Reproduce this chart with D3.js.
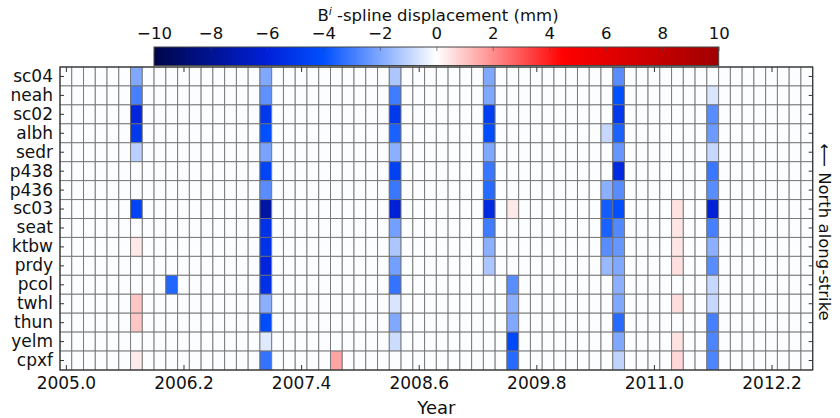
<!DOCTYPE html>
<html>
<head>
<meta charset="utf-8">
<script src="https://cdn.jsdelivr.net/npm/d3@7"></script>
<style>
  body { margin: 0; background: #fff; }
  text { font-family: "DejaVu Sans", sans-serif; fill: #111; }
</style>
</head>
<body>
<div id="chart"></div>
<script>
// stations, north to south (top to bottom)
var stations = ['sc04', 'neah', 'sc02', 'albh', 'sedr', 'p438', 'p436', 'sc03',
                'seat', 'ktbw', 'prdy', 'pcol', 'twhl', 'thun', 'yelm', 'cpxf'];

// epoch grid: 64 cells of 0.12 yr starting at 2005.0
var firstEpoch = 2005.0,
    epochStep = 0.12,
    nEpochs = 64;

// empty cells are very faintly blue
var b = -0.05;

// epochs that carry a signal, one value per station (mm)
var eventYears = [2005.72, 2006.08, 2007.04, 2007.76, 2008.36, 2009.32, 2009.56, 2010.52, 2010.64, 2011.24, 2011.60];

var ev2005_72 = [-2.0, -2.9, -5.8, -5.0, -1.1, b, b, -4.5, b, 0.4, b, b, 1.0, 1.0, b, 0.35];
var ev2006_08 = [b, b, b, b, b, b, b, b, b, b, b, -3.5, b, b, b, b];
var ev2007_04 = [-2.0, -2.5, -5.0, -4.0, -2.1, -4.5, -2.6, -7.5, -5.2, -5.2, -5.8, -5.3, -1.8, -4.2, -0.5, -3.2];
var ev2007_76 = [b, b, b, b, b, b, b, b, b, b, b, b, b, b, b, 1.6];
var ev2008_36 = [-1.3, -3.0, -5.0, -3.6, -1.8, -4.6, -3.1, -6.0, -2.2, -1.3, -2.2, -3.2, -0.6, -2.0, -0.8, b];
var ev2009_32 = [-2.0, -2.0, -4.7, -4.2, -2.0, -3.1, -3.4, -5.6, -3.0, -1.8, -1.3, b, b, b, b, b];
var ev2009_56 = [b, b, b, b, b, b, b, 0.4, b, b, b, -2.6, -1.8, -2.0, -4.3, -3.4];
var ev2010_52 = [b, b, b, -0.9, b, b, -1.8, -3.7, -3.6, -2.6, -1.6, b, b, b, b, b];
var ev2010_64 = [-2.6, -4.0, -5.0, -3.6, -2.4, -5.6, -2.6, -4.1, -2.7, -2.4, -2.0, -1.8, -2.0, -3.4, -2.0, -1.0];
var ev2011_24 = [b, b, b, b, b, b, b, 0.5, 0.45, 0.45, 0.55, b, 0.6, b, 0.5, 0.7];
var ev2011_60 = [b, -0.6, -2.6, -2.3, -0.9, -3.1, -2.6, -6.0, -2.9, -1.8, -2.6, -0.9, -0.9, -2.9, -2.8, -2.8];

var eventValues = [ev2005_72, ev2006_08, ev2007_04, ev2007_76, ev2008_36, ev2009_32,
                   ev2009_56, ev2010_52, ev2010_64, ev2011_24, ev2011_60];

var xTicks = [2005.0, 2006.2, 2007.4, 2008.6, 2009.8, 2011.0, 2012.2];
var cbarTicks = [-10, -8, -6, -4, -2, 0, 2, 4, 6, 8, 10];

// colour map (diverging blue-white-red)
var cmapStops = [-10, -6, -4, 0, 4.5, 10];
var cmapColors = ['#00064a', '#0020d8', '#0050ff', '#ffffff', '#ff0000', '#a00000'];

var width = 840,
    height = 418,
    plotLeft = 60, plotRight = 812.7,
    plotTop = 67, plotBottom = 370;

var svg = d3.select('#chart').append('svg')
    .attr('width', width)
    .attr('height', height);

var color = d3.scaleLinear()
    .domain(cmapStops)
    .range(cmapColors)
    .clamp(true);

var x = d3.scaleLinear()
    .domain([firstEpoch - epochStep / 2, firstEpoch + (nEpochs - 0.5) * epochStep])
    .range([plotLeft, plotRight]);

var y = d3.scaleBand()
    .domain(stations)
    .range([plotTop, plotBottom]);

// build cells
var cells = [];
d3.range(nEpochs).forEach(function(i) {
    var yr = +(firstEpoch + i * epochStep).toFixed(2);
    var k = eventYears.indexOf(yr);
    stations.forEach(function(s, j) {
        cells.push({ year: yr, station: s, value: k > -1 ? eventValues[k][j] : b });
    });
});

svg.append('g').selectAll('rect')
    .data(cells)
    .enter().append('rect')
    .attr('x', function(d) { return x(d.year - epochStep / 2); })
    .attr('y', function(d) { return y(d.station); })
    .attr('width', function(d) { return x(d.year + epochStep / 2) - x(d.year - epochStep / 2); })
    .attr('height', y.bandwidth())
    .attr('fill', function(d) { return color(d.value); })
    .attr('stroke', '#6e6e6e')
    .attr('stroke-opacity', 0.85)
    .attr('stroke-width', 1);

// axes (ticks pointing in)
var xAxis = d3.axisBottom(x)
    .tickValues(xTicks)
    .tickFormat(d3.format('.1f'))
    .tickSizeInner(-5)
    .tickSizeOuter(0)
    .tickPadding(7);

var gx = svg.append('g')
    .attr('transform', 'translate(0,' + plotBottom + ')')
    .call(xAxis);
gx.select('.domain').remove();
gx.selectAll('text').attr('font-size', '17px');

var gxTop = svg.append('g')
    .attr('transform', 'translate(0,' + plotTop + ')')
    .call(d3.axisTop(x).tickValues(xTicks).tickSizeInner(-5).tickSizeOuter(0).tickFormat(''));
gxTop.select('.domain').remove();

var gy = svg.append('g')
    .attr('transform', 'translate(' + plotLeft + ',0)')
    .call(d3.axisLeft(y).tickSizeInner(-4).tickSizeOuter(0).tickPadding(7));
gy.select('.domain').remove();
gy.selectAll('text').attr('font-size', '17px');

var gyRight = svg.append('g')
    .attr('transform', 'translate(' + plotRight + ',0)')
    .call(d3.axisRight(y).tickSizeInner(-4).tickSizeOuter(0).tickFormat(''));
gyRight.select('.domain').remove();

svg.selectAll('.tick line').attr('stroke', '#333');

// frame
svg.append('rect')
    .attr('x', plotLeft)
    .attr('y', plotTop)
    .attr('width', plotRight - plotLeft)
    .attr('height', plotBottom - plotTop)
    .attr('fill', 'none')
    .attr('stroke', '#333')
    .attr('stroke-width', 1.2);

svg.append('text')
    .attr('x', (plotLeft + plotRight) / 2)
    .attr('y', 414)
    .attr('text-anchor', 'middle')
    .attr('font-size', '18px')
    .text('Year');

svg.append('text')
    .attr('transform', 'translate(819,232) rotate(90)')
    .attr('text-anchor', 'middle')
    .attr('font-size', '16.5px')
    .text('\u27F5 North along-strike');

// colourbar
var cbLeft = 154, cbRight = 718.7, cbTop = 47, cbBottom = 65.5;

var cx = d3.scaleLinear()
    .domain([-10, 10])
    .range([cbLeft, cbRight]);

var grad = svg.append('defs').append('linearGradient')
    .attr('id', 'cbgrad')
    .attr('x1', '0%').attr('x2', '100%')
    .attr('y1', '0%').attr('y2', '0%');

grad.selectAll('stop')
    .data(cmapStops)
    .enter().append('stop')
    .attr('offset', function(d) { return ((d + 10) / 20 * 100) + '%'; })
    .attr('stop-color', function(d) { return color(d); });

svg.append('rect')
    .attr('x', cbLeft)
    .attr('y', cbTop)
    .attr('width', cbRight - cbLeft)
    .attr('height', cbBottom - cbTop)
    .attr('fill', 'url(#cbgrad)')
    .attr('stroke', '#444')
    .attr('stroke-width', 1);

var gcb = svg.append('g')
    .attr('transform', 'translate(0,' + cbTop + ')')
    .call(d3.axisTop(cx)
        .tickValues(cbarTicks)
        .tickSizeInner(-4)
        .tickSizeOuter(0)
        .tickPadding(8)
        .tickFormat(function(d) { return d < 0 ? '\u2212' + Math.abs(d) : d; }));
gcb.select('.domain').remove();
gcb.selectAll('text').attr('font-size', '16.5px');
gcb.selectAll('.tick line').attr('stroke', '#444').attr('stroke-opacity', 0.6);

var title = svg.append('text')
    .attr('x', 438)
    .attr('y', 21)
    .attr('text-anchor', 'middle')
    .attr('font-size', '16.5px');
title.append('tspan').text('B');
title.append('tspan')
    .attr('dy', -6)
    .attr('font-size', '11px')
    .attr('font-style', 'italic')
    .text('i');
title.append('tspan')
    .attr('dy', 6)
    .text(' -spline displacement (mm)');
</script>
</body>
</html>
